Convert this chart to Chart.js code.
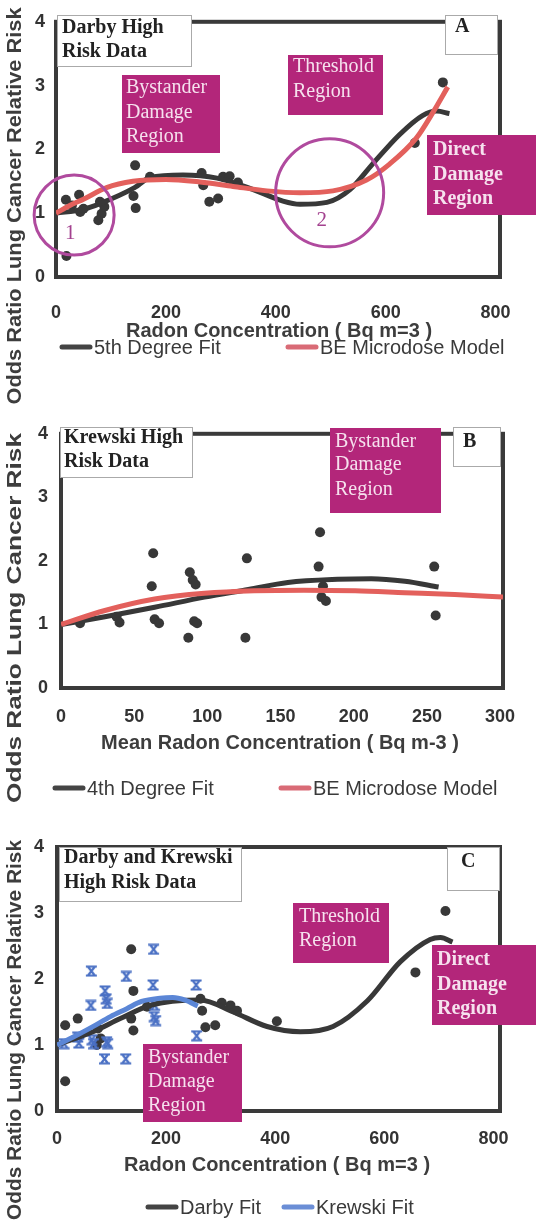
<!DOCTYPE html>
<html>
<head>
<meta charset="utf-8">
<script src="https://cdn.jsdelivr.net/npm/chart.js@4.4.1/dist/chart.umd.min.js"></script>
<style>
html, body { margin: 0; padding: 0; background: #fff; }
#wrap { position: relative; width: 536px; height: 1223px; overflow: hidden; }
#wrap canvas { position: absolute; left: 0; }
</style>
</head>
<body>
<div id="wrap">
  <canvas id="chartA" width="536" height="410" style="top:0px"></canvas>
  <canvas id="chartB" width="536" height="410" style="top:410px"></canvas>
  <canvas id="chartC" width="536" height="403" style="top:820px"></canvas>
</div>
<script>
// ---- data ----
const yTicks = [0, 1, 2, 3, 4];
const xTicksAC = [0, 200, 400, 600, 800];
const xTicksB = [0, 50, 100, 150, 200, 250, 300];

// Panel A - Darby high risk data
const darbyDoseA = [18, 42, 29, 50, 44, 80, 83, 77, 88, 19, 141, 144, 145, 171, 265, 268, 279, 295, 304, 316, 331, 653, 704];
const darbyRiskA = [1.21, 1.29, 1.12, 1.07, 1.02, 1.18, 0.99, 0.89, 1.1, 0.33, 1.27, 1.75, 1.08, 1.57, 1.63, 1.44, 1.18, 1.23, 1.57, 1.58, 1.48, 2.1, 3.05];
const darbyFitDoseA = [0, 49, 80, 143, 171, 231, 293, 353, 413, 444, 493, 535, 576, 625, 667, 693, 716];
const darbyFitRiskA = [1.0, 1.06, 1.15, 1.4, 1.56, 1.6, 1.55, 1.39, 1.19, 1.14, 1.17, 1.37, 1.77, 2.23, 2.53, 2.6, 2.56];
const beDoseA = [0, 25, 50, 92, 140, 200, 262, 322, 384, 444, 504, 565, 607, 656, 686, 713];
const beRiskA = [1.0, 1.12, 1.22, 1.4, 1.5, 1.53, 1.49, 1.42, 1.35, 1.32, 1.35, 1.52, 1.77, 2.18, 2.58, 2.98];

// Panel B - Krewski high risk data
const krewskiDose = [13, 38, 40, 63, 62, 64, 67, 88, 90, 92, 91, 93, 87, 127, 126, 177, 176, 179, 178, 181, 255, 256];
const krewskiRisk = [1.02, 1.12, 1.03, 2.12, 1.6, 1.08, 1.02, 1.82, 1.7, 1.63, 1.05, 1.02, 0.79, 2.04, 0.79, 2.45, 1.91, 1.6, 1.43, 1.37, 1.91, 1.14];
const krewskiFitDose = [0, 30, 64, 98, 128, 155, 189, 212, 235, 258];
const krewskiFitRisk = [1.0, 1.12, 1.27, 1.43, 1.55, 1.66, 1.71, 1.72, 1.68, 1.59];
const beDoseB = [0, 30, 64, 98, 132, 166, 201, 235, 269, 302];
const beRiskB = [1.0, 1.22, 1.4, 1.49, 1.53, 1.54, 1.53, 1.5, 1.47, 1.43];

// Panel C - Darby and Krewski
const darbyDoseC = [15, 38, 15, 75, 73, 80, 136, 140, 136, 140, 165, 263, 266, 272, 290, 302, 318, 330, 403, 657, 712];
const darbyRiskC = [1.3, 1.4, 0.45, 1.25, 1.0, 1.1, 2.45, 1.82, 1.4, 1.22, 1.58, 1.7, 1.52, 1.27, 1.3, 1.64, 1.6, 1.52, 1.36, 2.1, 3.03];
const darbyFitDoseC = [0, 66, 116, 171, 262, 323, 385, 446, 506, 569, 629, 684, 703, 725];
const darbyFitRiskC = [1.0, 1.2, 1.4, 1.6, 1.68, 1.5, 1.28, 1.2, 1.28, 1.67, 2.26, 2.6, 2.63, 2.56];

// ---- styles ----
const DARK = '#383838';
const RED = '#e3605c';
const BLUE = '#5b86d6';
const MAGENTA = '#b3267a';
const BOX_TEXT = '#f6e1ee';
const SANS = '"Liberation Sans", Arial, sans-serif';
const SERIF = '"Liberation Serif", "Times New Roman", serif';

function toPoints(xs, ys) {
  return xs.map((x, i) => ({ x: x, y: ys[i] }));
}

function hourglass(color) {
  const c = document.createElement('canvas');
  c.width = 13; c.height = 12;
  const g = c.getContext('2d');
  g.strokeStyle = color;
  g.lineWidth = 2.2;
  g.beginPath();
  g.moveTo(1, 1.5); g.lineTo(12, 1.5);
  g.moveTo(1, 10.5); g.lineTo(12, 10.5);
  g.moveTo(3, 1.5); g.lineTo(10, 10.5);
  g.moveTo(10, 1.5); g.lineTo(3, 10.5);
  g.stroke();
  return c;
}

function dots(xs, ys) {
  return { type: 'scatter', data: toPoints(xs, ys), pointRadius: 5, pointBackgroundColor: DARK, pointBorderWidth: 0, showLine: false, order: 3 };
}

function curve(xs, ys, color, order) {
  return { type: 'line', data: toPoints(xs, ys), borderColor: color, borderWidth: 5, pointRadius: 0, cubicInterpolationMode: 'monotone', fill: false, order: order };
}

// frame, annotation boxes, circles, axis titles and legend
const panelDecor = {
  id: 'panelDecor',
  beforeDatasetsDraw(chart) {
    const { ctx, chartArea: a } = chart;
    ctx.save();
    ctx.strokeStyle = '#3a3a3a';
    ctx.lineWidth = 4;
    ctx.strokeRect(a.left, a.top, a.right - a.left, a.bottom - a.top);
    ctx.restore();
  },
  afterDraw(chart, args, opts) {
    const ctx = chart.ctx;
    const xs = chart.scales.x, ys = chart.scales.y;
    ctx.save();

    (opts.circles || []).forEach(c => {
      const cx = xs.getPixelForValue(c.x), cy = ys.getPixelForValue(c.y);
      ctx.beginPath();
      ctx.arc(cx, cy, c.r, 0, Math.PI * 2);
      ctx.strokeStyle = '#b04a9e';
      ctx.lineWidth = 3;
      ctx.stroke();
      ctx.fillStyle = '#a3418f';
      ctx.font = '21px ' + SERIF;
      ctx.textAlign = 'center';
      ctx.textBaseline = 'middle';
      ctx.fillText(c.label, cx + c.dx, cy + c.dy);
    });

    (opts.boxes || []).forEach(b => {
      ctx.fillStyle = b.fill;
      ctx.fillRect(b.x, b.y, b.w, b.h);
      if (b.stroke) {
        ctx.strokeStyle = b.stroke;
        ctx.lineWidth = 1;
        ctx.strokeRect(b.x + 0.5, b.y + 0.5, b.w - 1, b.h - 1);
      }
      ctx.fillStyle = b.color;
      ctx.font = b.font;
      ctx.textAlign = 'left';
      ctx.textBaseline = 'middle';
      b.lines.forEach((t, i) => ctx.fillText(t, b.tx, b.ty[i]));
    });

    // x title
    const xt = opts.xTitle;
    ctx.fillStyle = '#3d3d3d';
    ctx.font = 'bold 20px ' + SANS;
    ctx.textAlign = 'center';
    ctx.textBaseline = 'middle';
    ctx.fillText(xt.text, xt.x, xt.y);

    // y title, stretched to the length it has in the figure
    const yt = opts.yTitle;
    ctx.save();
    ctx.translate(yt.x, yt.y);
    ctx.rotate(-Math.PI / 2);
    ctx.font = 'bold 20px ' + SANS;
    const w = ctx.measureText(yt.text).width;
    ctx.scale(yt.length / w, 1);
    ctx.fillText(yt.text, 0, 0);
    ctx.restore();

    // legend
    ctx.font = '20px ' + SANS;
    ctx.textAlign = 'left';
    ctx.lineCap = 'round';
    opts.legend.items.forEach(it => {
      ctx.beginPath();
      ctx.moveTo(it.x, opts.legend.y);
      ctx.lineTo(it.x + 28, opts.legend.y);
      ctx.strokeStyle = it.color;
      ctx.lineWidth = 5;
      ctx.stroke();
      ctx.fillStyle = '#3a3a3a';
      ctx.fillText(it.text, it.x + 32, opts.legend.y + 1);
    });
    ctx.restore();
  }
};

function makePanel(id, datasets, s) {
  const tickFont = { family: SANS, size: 18, weight: 'bold' };
  return new Chart(document.getElementById(id), {
    type: 'scatter',
    data: { datasets: datasets },
    plugins: [panelDecor],
    options: {
      responsive: false,
      animation: false,
      layout: { padding: { top: s.top, right: s.right, bottom: 0, left: 0 } },
      plugins: {
        legend: { display: false },
        tooltip: { enabled: false },
        panelDecor: s.decor
      },
      scales: {
        x: {
          type: 'linear', min: 0, max: s.xMax,
          afterBuildTicks: sc => { sc.ticks = s.xTicks.map(v => ({ value: v })); },
          afterFit: sc => { sc.height = s.xHeight; },
          grid: { display: false, drawTicks: false },
          border: { display: false },
          ticks: { padding: s.xPad, font: tickFont, color: '#333', maxRotation: 0, autoSkip: false }
        },
        y: {
          type: 'linear', min: 0, max: 4,
          afterBuildTicks: sc => { sc.ticks = yTicks.map(v => ({ value: v })); },
          afterFit: sc => { sc.width = s.yWidth; },
          grid: { display: false, drawTicks: false },
          border: { display: false },
          ticks: { padding: s.yPad, font: tickFont, color: '#333' }
        }
      }
    }
  });
}

const whiteBoxFont = 'bold 20px ' + SERIF;
const pinkFont = '20px ' + SERIF;
const pinkBold = 'bold 20px ' + SERIF;

makePanel('chartA', [
  curve(beDoseA, beRiskA, RED, 0),
  curve(darbyFitDoseA, darbyFitRiskA, DARK, 1),
  dots(darbyDoseA, darbyRiskA)
], {
  top: 13, right: 36, xHeight: 133, yWidth: 56, xMax: 808, xTicks: xTicksAC, xPad: 25, yPad: 11,
  decor: {
    circles: [
      { x: 33, y: 0.97, r: 40, label: '1', dx: -4, dy: 18 },
      { x: 498, y: 1.32, r: 54, label: '2', dx: -8, dy: 28 }
    ],
    boxes: [
      { x: 57, y: 15, w: 135, h: 52, fill: '#fff', stroke: '#aaa', color: '#222', font: whiteBoxFont, lines: ['Darby High', 'Risk Data'], tx: 62, ty: [28, 52] },
      { x: 445, y: 15, w: 53, h: 40, fill: '#fff', stroke: '#aaa', color: '#222', font: whiteBoxFont, lines: ['A'], tx: 455, ty: [27] },
      { x: 122, y: 75, w: 98, h: 78, fill: MAGENTA, color: BOX_TEXT, font: pinkFont, lines: ['Bystander', 'Damage', 'Region'], tx: 126, ty: [88, 113, 137] },
      { x: 288, y: 55, w: 95, h: 60, fill: MAGENTA, color: BOX_TEXT, font: pinkFont, lines: ['Threshold', 'Region'], tx: 293, ty: [67, 92] },
      { x: 427, y: 135, w: 109, h: 80, fill: MAGENTA, color: BOX_TEXT, font: pinkBold, lines: ['Direct', 'Damage', 'Region'], tx: 433, ty: [150, 175, 199] }
    ],
    xTitle: { text: 'Radon Concentration ( Bq m=3 )', x: 279, y: 331 },
    yTitle: { text: 'Odds Ratio Lung Cancer Relative Risk', x: 15, y: 206, length: 397 },
    legend: { y: 347, items: [
      { x: 62, color: '#444', text: '5th Degree Fit' },
      { x: 288, color: '#d96b76', text: 'BE Microdose Model' }
    ] }
  }
});

makePanel('chartB', [
  curve(beDoseB, beRiskB, RED, 0),
  curve(krewskiFitDose, krewskiFitRisk, DARK, 1),
  dots(krewskiDose, krewskiRisk)
], {
  top: 17, right: 33, xHeight: 132, yWidth: 61, xMax: 302, xTicks: xTicksB, xPad: 18, yPad: 13,
  decor: {
    boxes: [
      { x: 60, y: 17, w: 133, h: 51, fill: '#fff', stroke: '#aaa', color: '#222', font: whiteBoxFont, lines: ['Krewski High', 'Risk Data'], tx: 64, ty: [28, 52] },
      { x: 453, y: 17, w: 48, h: 40, fill: '#fff', stroke: '#aaa', color: '#222', font: whiteBoxFont, lines: ['B'], tx: 463, ty: [32] },
      { x: 330, y: 18, w: 111, h: 85, fill: MAGENTA, color: BOX_TEXT, font: pinkFont, lines: ['Bystander', 'Damage', 'Region'], tx: 335, ty: [32, 55, 80] }
    ],
    xTitle: { text: 'Mean Radon Concentration ( Bq m-3 )', x: 280, y: 333 },
    yTitle: { text: 'Odds Ratio Lung Cancer Risk', x: 15, y: 208, length: 370 },
    legend: { y: 378, items: [
      { x: 55, color: '#444', text: '4th Degree Fit' },
      { x: 281, color: '#d96b76', text: 'BE Microdose Model' }
    ] }
  }
});

const krewskiMarks = {
  type: 'scatter', data: toPoints(krewskiDose, krewskiRisk), pointStyle: hourglass('#4a70c4'),
  pointRadius: 6, showLine: false, order: 2
};

makePanel('chartC', [
  curve(krewskiFitDose, krewskiFitRisk, BLUE, 0),
  curve(darbyFitDoseC, darbyFitRiskC, DARK, 1),
  krewskiMarks,
  dots(darbyDoseC, darbyRiskC)
], {
  top: 27, right: 36, xHeight: 112, yWidth: 57, xMax: 812, xTicks: xTicksAC, xPad: 17, yPad: 13,
  decor: {
    boxes: [
      { x: 59, y: 27, w: 183, h: 55, fill: '#fff', stroke: '#aaa', color: '#222', font: whiteBoxFont, lines: ['Darby and Krewski', 'High Risk Data'], tx: 64, ty: [38, 63] },
      { x: 447, y: 27, w: 53, h: 44, fill: '#fff', stroke: '#aaa', color: '#222', font: whiteBoxFont, lines: ['C'], tx: 461, ty: [42] },
      { x: 293, y: 83, w: 96, h: 60, fill: MAGENTA, color: BOX_TEXT, font: pinkFont, lines: ['Threshold', 'Region'], tx: 299, ty: [97, 121] },
      { x: 432, y: 125, w: 104, h: 80, fill: MAGENTA, color: BOX_TEXT, font: pinkBold, lines: ['Direct', 'Damage', 'Region'], tx: 437, ty: [140, 165, 189] },
      { x: 143, y: 224, w: 99, h: 78, fill: MAGENTA, color: BOX_TEXT, font: pinkFont, lines: ['Bystander', 'Damage', 'Region'], tx: 148, ty: [238, 262, 286] }
    ],
    xTitle: { text: 'Radon Concentration ( Bq m=3 )', x: 277, y: 345 },
    yTitle: { text: 'Odds Ratio Lung Cancer Relative Risk', x: 15, y: 210, length: 380 },
    legend: { y: 387, items: [
      { x: 148, color: '#444', text: 'Darby Fit' },
      { x: 284, color: '#6b8ed6', text: 'Krewski Fit' }
    ] }
  }
});
</script>
</body>
</html>
